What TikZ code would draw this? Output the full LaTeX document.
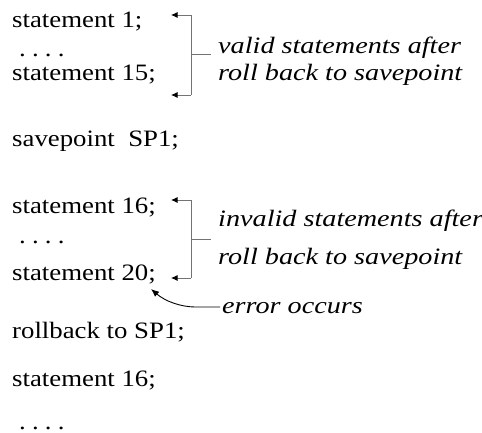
\documentclass[tikz,border=0pt]{standalone}
\usepackage{fontspec}
\setmainfont{Liberation Serif}[FakeStretch=1.14, ItalicFeatures={FakeStretch=1.2}]
\usetikzlibrary{arrows.meta}
\newcommand{\fourdots}{.\kern6.2pt.\kern6.2pt.\kern6.2pt.}
\tikzset{
  stmt/.style={anchor=base west, inner sep=0pt, font=\fontsize{23.5}{27}\selectfont},
  note/.style={anchor=base west, inner sep=0pt, font=\fontsize{23.5}{27}\selectfont\itshape},
  brack/.style={draw=black!55, line width=0.8pt},
  brarrow/.style={brack, -{Latex[length=6.5pt,width=6pt,color=black]}},
  errarrow/.style={draw=black, line width=0.9pt, -{Latex[length=8pt,width=6.5pt]}}
}
\begin{document}
\begin{tikzpicture}[x=1pt,y=-1pt]
\useasboundingbox (0,0) rectangle (482,433);
% statements
\node[stmt] (s1)  at (12,28)  {statement 1;};
\node[stmt] (d1)  at (19,57)  {\fourdots};
\node[stmt] (s15) at (12,81)  {statement 15;};
\node[stmt] (sp)  at (12,147) {savepoint\ \ SP1;};
\node[stmt] (s16) at (12,213) {statement 16;};
\node[stmt] (d2)  at (19,243) {\fourdots};
\node[stmt] (s20) at (12,280) {statement 20;};
\node[stmt] (rb)  at (12,338) {rollback to SP1;};
\node[stmt] (s16b) at (12,386) {statement 16;};
\node[stmt] (d3)  at (19,429) {\fourdots};
% notes
\node[note] (v1) at (218,54) {valid statements after};
\node[note] (v2) at (218,81) {roll back to savepoint};
\node[note] (i1) at (218,226) {invalid statements after};
\node[note] (i2) at (218,264) {roll back to savepoint};
\node[note] (er) at (222,313) {error occurs};
% bracket 1
\coordinate (b1t) at (191,15);
\coordinate (b1b) at (191,95);
\coordinate (b1m) at (191,54);
\coordinate (b1e) at (211,54);
\coordinate (a1t) at (171,15);
\coordinate (a1b) at (171,95);
\draw[brack] (b1t) -- (b1b);
\draw[brack] (b1m) -- (b1e);
\draw[brarrow] (b1t) -- (a1t);
\draw[brarrow] (b1b) -- (a1b);
% bracket 2
\coordinate (b2t) at (191,200);
\coordinate (b2b) at (191,278);
\coordinate (b2m) at (191,239);
\coordinate (b2e) at (211,239);
\coordinate (a2t) at (171,200);
\coordinate (a2b) at (171,278);
\draw[brack] (b2t) -- (b2b);
\draw[brack] (b2m) -- (b2e);
\draw[brarrow] (b2t) -- (a2t);
\draw[brarrow] (b2b) -- (a2b);
% error arrow
\coordinate (ee) at (220,307);
\coordinate (et) at (151,289);
\draw[errarrow] (ee) -- (196,307) .. controls (180,307) and (165,301) .. (et);
\end{tikzpicture}
\end{document}
